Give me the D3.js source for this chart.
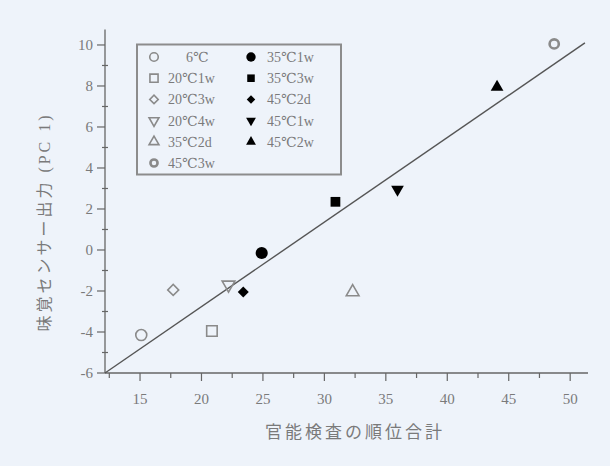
<!DOCTYPE html>
<html><head><meta charset="utf-8">
<script src="https://cdn.jsdelivr.net/npm/d3@7"></script>
<style>
html,body{margin:0;padding:0;background:#eef3fa;}
svg{display:block;}
text{font-family:"Liberation Serif","DejaVu Serif","Noto Sans CJK JP",serif;fill:#7a7a7a;}
</style></head>
<body><svg id="c" width="610" height="466"></svg>
<script>
// ---- data ----
const labels  = ["6℃","20℃1w","20℃3w","20℃4w","35℃2d","45℃3w","35℃1w","35℃3w","45℃2d","45℃1w","45℃2w"];
const xValues = [15.1, 20.85, 17.7, 22.2, 32.3, 48.7, 24.9, 30.9, 23.4, 35.95, 44.05];
const yValues = [-4.15, -3.95, -1.95, -1.7, -2.05, 10.05, -0.15, 2.35, -2.05, 2.95, 7.95];
const shapes  = ["circle","square","diamond","triDown","triUp","ring","circle","square","diamond","triDown","triUp"];
const filled  = [false,false,false,false,false,false,true,true,true,true,true];
const fitX = [12.15, 51.2];
const fitY = [-6, 10.1];
const xTicks = [15,20,25,30,35,40,45,50];
const yTicks = [-6,-4,-2,0,2,4,6,8,10];
const xTitle = "官能検査の順位合計";
const yTitle = "味覚センサー出力 (PC 1)";

// ---- layout ----
const svg = d3.select("#c");
const x = d3.scaleLinear().domain([12.15, 51.45]).range([105, 588]);
const y = d3.scaleLinear().domain([-6, 10.75]).range([373, 29.6]);
const axisCol = "#666";

const g = svg.append("g");
// axes lines
g.append("line").attr("x1",x(12.15)).attr("x2",x(51.45)).attr("y1",y(-6)).attr("y2",y(-6)).attr("stroke",axisCol).attr("stroke-width",1.3);
g.append("line").attr("x1",x(12.15)).attr("x2",x(12.15)).attr("y1",y(-6)).attr("y2",y(10.75)).attr("stroke",axisCol).attr("stroke-width",1.3);

// x ticks
const xMinor = d3.range(12.5, 51.3, 2.5);
xMinor.forEach(v=>{
  const major = Math.abs(v%5)<1e-6;
  g.append("line").attr("x1",x(v)).attr("x2",x(v)).attr("y1",y(-6)).attr("y2",y(-6)+(major?8:5)).attr("stroke",axisCol).attr("stroke-width",1.2);
});
xTicks.forEach(v=>{
  g.append("text").attr("x",x(v)).attr("y",y(-6)+31).attr("text-anchor","middle").attr("font-size",15).text(v);
});
// y ticks
d3.range(-5, 10.5, 1).forEach(v=>{
  const major = Math.abs(v%2)<1e-6;
  if(major) return;
  g.append("line").attr("x1",x(12.15)-3).attr("x2",x(12.15)+3).attr("y1",y(v)).attr("y2",y(v)).attr("stroke",axisCol).attr("stroke-width",1.2);
});
yTicks.forEach(v=>{
  g.append("line").attr("x1",x(12.15)-8).attr("x2",x(12.15)).attr("y1",y(v)).attr("y2",y(v)).attr("stroke",axisCol).attr("stroke-width",1.2);
  g.append("text").attr("x",x(12.15)-12).attr("y",y(v)+5).attr("text-anchor","end").attr("font-size",15).text(v);
});

// titles
g.append("text").attr("x",355).attr("y",438).attr("text-anchor","middle").attr("font-size",17).attr("letter-spacing",3).text(xTitle);
g.append("text").attr("transform","translate(50,222) rotate(-90)").attr("text-anchor","middle").attr("font-size",16).attr("letter-spacing",3).text(yTitle);

// fit line
g.append("line").attr("x1",x(fitX[0])).attr("y1",y(fitY[0])).attr("x2",x(fitX[1])).attr("y2",y(fitY[1])).attr("stroke","#555").attr("stroke-width",1.4);

// markers
function drawMarker(sel, shape, fill, cx, cy, scale){
  const s = scale||1;
  const col = fill ? "#000" : "#8a8a8a";
  const fc = fill ? "#000" : "none";
  const sw = fill ? 0 : 1.6;
  let gen, rot = 0;
  if(shape==="circle") gen = d3.symbol(d3.symbolCircle, (fill?115:95)*s);
  else if(shape==="square") gen = d3.symbol(d3.symbolSquare, (fill?95:110)*s);
  else if(shape==="diamond") { gen = d3.symbol(d3.symbolSquare, 60*s); rot = 45; }
  else if(shape==="triUp") gen = d3.symbol(d3.symbolTriangle, 70*s);
  else if(shape==="triDown") { gen = d3.symbol(d3.symbolTriangle, 70*s); rot = 180; }
  if(shape==="ring"){
    sel.append("circle").attr("cx",cx).attr("cy",cy).attr("r",4.6*Math.sqrt(s)).attr("fill","none").attr("stroke",col).attr("stroke-width",2.6);
    return;
  }
  sel.append("path").attr("d",gen()).attr("transform",`translate(${cx},${cy}) rotate(${rot})`)
    .attr("fill",fc).attr("stroke",fill?"none":col).attr("stroke-width",sw);
}
labels.forEach((l,i)=>drawMarker(g, shapes[i], filled[i], x(xValues[i]), y(yValues[i]), 1));

// legend
g.append("rect").attr("x",137).attr("y",44.5).attr("width",204).attr("height",130).attr("fill","none").attr("stroke","#8c8c8c").attr("stroke-width",2);
const rowH = 21.2;
labels.forEach((l,i)=>{
  const col = i<6 ? 0 : 1;
  const row = i<6 ? i : i-6;
  const sx = col===0 ? 154 : 251;
  const sy = 57 + row*rowH;
  drawMarker(g, shapes[i], filled[i], sx, sy, 0.6);
  const tx = col===0 ? (i===0 ? 186 : 168) : 267;
  g.append("text").attr("x",tx).attr("y",sy+5).attr("font-size",14).text(l);
});
</script></body></html>
